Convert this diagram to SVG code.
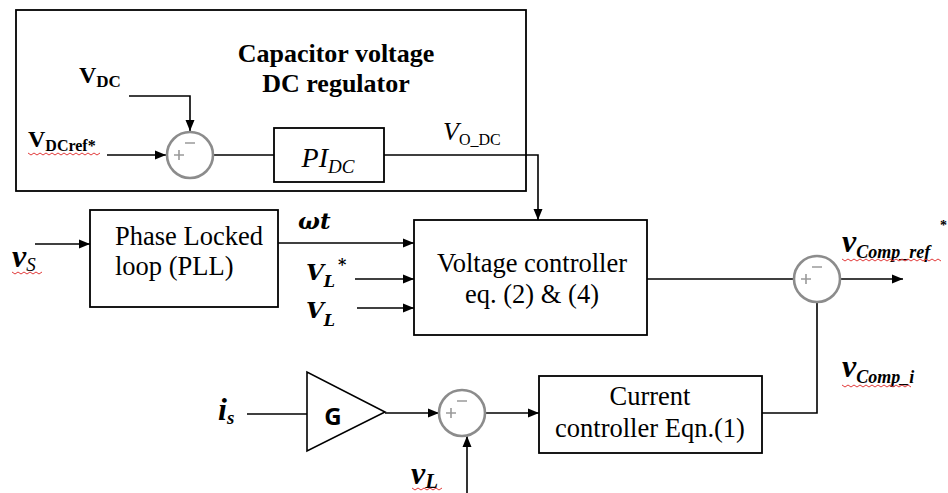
<svg xmlns="http://www.w3.org/2000/svg" width="948" height="493" viewBox="0 0 948 493">
<defs>
<marker id="ah" markerUnits="userSpaceOnUse" markerWidth="12" markerHeight="10" refX="11" refY="5" orient="auto">
<path d="M0,0.5 L11,5 L0,9.5 z" fill="#000"/>
</marker>
<style>
.box{fill:#fff;stroke:#000;stroke-width:1.8}
.ln{fill:none;stroke:#000;stroke-width:1.6}
.arr{fill:none;stroke:#000;stroke-width:1.6;marker-end:url(#ah)}
.sum{fill:#fff;stroke:#8c8c8c;stroke-width:2.6}
.sg{stroke:#9a9a9a;stroke-width:1.6;fill:none}
.wv{fill:none;stroke:#e23a3a;stroke-width:1}
</style>
</defs>
<rect width="948" height="493" fill="#fff"/>

<g id="dc-regulator">
<rect x="16" y="10" width="510" height="181" fill="none" stroke="#000" stroke-width="1.8"/>
<text x="336" y="62" font-family="Liberation Serif, serif" font-weight="bold" font-size="26" text-anchor="middle">Capacitor voltage</text>
<text x="336" y="92" font-family="Liberation Serif, serif" font-weight="bold" font-size="26" text-anchor="middle">DC regulator</text>
</g>

<g id="connectors">
<path class="arr" d="M129,96 H190 V131"/>
<path class="arr" d="M107,155 H166"/>
<path class="ln" d="M213,155 H274"/>
<path class="arr" d="M384,155 H538 V220"/>
<path class="arr" d="M35,244 H90"/>
<path class="arr" d="M278,243 H414"/>
<path class="arr" d="M355,279 H414"/>
<path class="arr" d="M357,308 H414"/>
<path class="ln" d="M647,279 H794"/>
<path class="arr" d="M840,279 H903"/>
<path class="ln" d="M762,413 H817 V302"/>
<path class="ln" d="M247,414 H307"/>
<path class="arr" d="M385,413 H439"/>
<path class="arr" d="M485,413 H539"/>
<path class="arr" d="M467,493 V436"/>
</g>

<g id="sum1">
<circle class="sum" cx="190" cy="155" r="23"/>
<path class="sg" d="M185,143 H195 M174,155 H184 M179,150 V160"/>
</g>

<g id="pi-dc">
<rect class="box" x="274" y="128" width="110" height="54"/>
<text x="328" y="167" font-family="Liberation Serif, serif" font-style="italic" font-size="28" text-anchor="middle">PI<tspan font-size="19" dy="6">DC</tspan></text>
</g>

<g id="pll" font-family="Liberation Serif, serif" font-size="26.5">
<rect class="box" x="90" y="210" width="188" height="97"/>
<text x="115" y="245">Phase Locked</text>
<text x="115" y="275">loop (PLL)</text>
</g>

<g id="voltage-controller" font-family="Liberation Serif, serif" font-size="26.5">
<rect class="box" x="414" y="220" width="233" height="115"/>
<text x="532" y="272" text-anchor="middle">Voltage controller</text>
<text x="532" y="303" text-anchor="middle">eq. (2) &amp; (4)</text>
</g>

<g id="sum2">
<circle class="sum" cx="817" cy="279" r="23"/>
<path class="sg" d="M812,267 H822 M801,279 H811 M806,274 V284"/>
</g>

<g id="gain">
<polygon points="307,372 307,451 385,412" fill="#fff" stroke="#000" stroke-width="1.6"/>
<text x="333" y="425" font-family="Open Sans, Liberation Sans, sans-serif" font-weight="bold" font-size="24" text-anchor="middle">G</text>
</g>

<g id="sum3">
<circle class="sum" cx="462" cy="413" r="23"/>
<path class="sg" d="M457,401 H467 M446,413 H456 M451,408 V418"/>
</g>

<g id="current-controller" font-family="Liberation Serif, serif" font-size="26.5">
<rect class="box" x="539" y="376" width="223" height="77"/>
<text x="650" y="405" text-anchor="middle">Current</text>
<text x="650" y="437" text-anchor="middle">controller Eqn.(1)</text>
</g>

<g id="labels" font-family="Liberation Serif, serif">
<text x="79" y="83" font-weight="bold" font-size="24">V<tspan font-size="17" dy="4">DC</tspan></text>
<text x="28" y="147" font-weight="bold" font-size="24">V<tspan font-size="16" dy="4">DCref*</tspan></text>
<text x="443" y="140" font-style="italic" font-size="26">V<tspan font-style="normal" font-size="16" dy="5">O_DC</tspan></text>
<text x="298" y="229" font-family="DejaVu Serif, serif" font-weight="bold" font-style="italic" font-size="23">ωt</text>
<text x="306" y="280" font-family="DejaVu Serif, serif" font-weight="bold" font-style="italic" font-size="23">V<tspan font-size="16" dy="7">L</tspan></text>
<text x="338" y="270" font-family="DejaVu Serif, serif" font-weight="bold" font-size="16">*</text>
<text x="306" y="318" font-family="DejaVu Serif, serif" font-weight="bold" font-style="italic" font-size="23">V<tspan font-size="16" dy="8">L</tspan></text>
<text x="12" y="267" font-weight="bold" font-style="italic" font-size="32">v<tspan font-size="19" font-weight="normal" dy="4">S</tspan></text>
<text x="218" y="420" font-weight="bold" font-style="italic" font-size="32">i<tspan font-size="19" dy="4">s</tspan></text>
<text x="411" y="484" font-weight="bold" font-style="italic" font-size="32">v<tspan font-size="21" dy="4">L</tspan></text>
<text x="842" y="252" font-weight="bold" font-style="italic" font-size="32">v<tspan font-size="18" dy="6">Comp_ref</tspan></text>
<text x="940" y="230" font-weight="bold" font-size="14">*</text>
<text x="842" y="377" font-weight="bold" font-style="italic" font-size="32">v<tspan font-size="18" dy="6">Comp_i</tspan></text>
</g>

<g id="spellcheck-underlines">
<path class="wv" d="M28,153 l3,2 l3,-2 l3,2 l3,-2 l3,2 l3,-2 l3,2 l3,-2 l3,2 l3,-2 l3,2 l3,-2 l3,2 l3,-2 l3,2 l3,-2 l3,2 l3,-2 l3,2 l3,-2 l3,2 l3,-2 l3,2 l3,-2"/>
<path class="wv" d="M12,272 l3,2 l3,-2 l3,2 l3,-2 l3,2 l3,-2 l3,2 l3,-2 l3,2 l3,-2"/>
<path class="wv" d="M412,488 l3,2 l3,-2 l3,2 l3,-2 l3,2 l3,-2 l3,2 l3,-2 l3,2 l3,-2"/>
<path class="wv" d="M842,259 l3,2 l3,-2 l3,2 l3,-2 l3,2 l3,-2 l3,2 l3,-2 l3,2 l3,-2 l3,2 l3,-2 l3,2 l3,-2 l3,2 l3,-2 l3,2 l3,-2 l3,2 l3,-2 l3,2 l3,-2 l3,2 l3,-2 l3,2 l3,-2 l3,2 l3,-2 l3,2 l3,-2 l3,2 l3,-2 l3,2"/>
<path class="wv" d="M842,385 l3,2 l3,-2 l3,2 l3,-2 l3,2 l3,-2 l3,2 l3,-2 l3,2 l3,-2 l3,2 l3,-2 l3,2 l3,-2 l3,2 l3,-2 l3,2 l3,-2 l3,2 l3,-2 l3,2 l3,-2 l3,2"/>
</g>
</svg>
